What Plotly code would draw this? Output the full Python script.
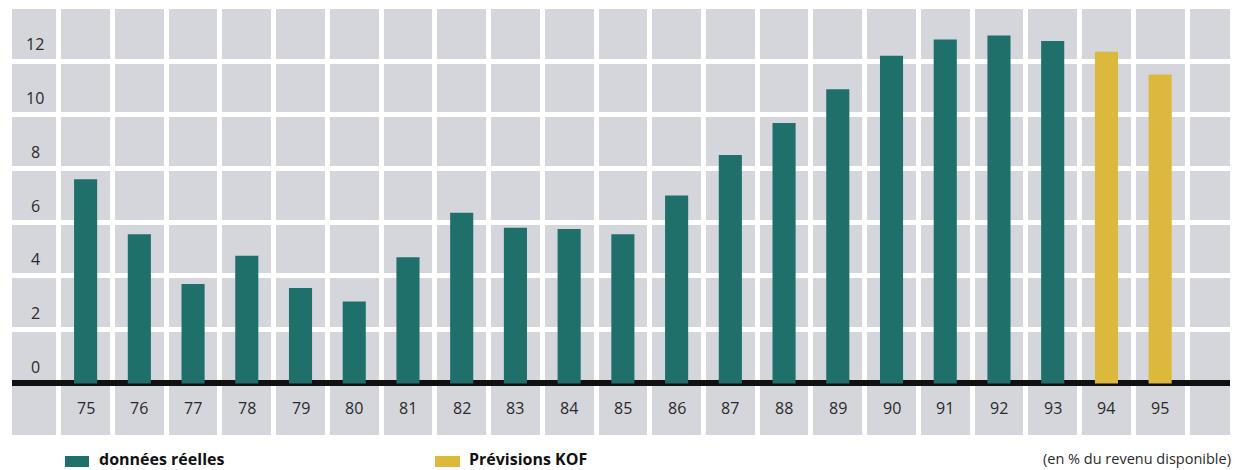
import plotly.graph_objects as go

years = list(range(75, 96))
year_labels = [str(y) for y in years]
actual_years = list(range(75, 94))
actual_values = [7.6, 5.55, 3.7, 4.75, 3.55, 3.05, 4.7, 6.35, 5.8, 5.75, 5.55,
                 7.0, 8.5, 9.7, 10.95, 12.2, 12.8, 12.95, 12.75]
forecast_years = [94, 95]
forecast_values = [12.35, 11.5]
y_ticks = [0, 2, 4, 6, 8, 10, 12]

TEAL = "#1f6f6b"
GOLD = "#dcb83c"
BG = "#d5d6dc"
TXT = "#2a2a2a"
FONT = "Open Sans"

fig = go.Figure()
fig.add_trace(go.Bar(x=actual_years, y=actual_values, marker=dict(color=TEAL, line=dict(width=0)),
                     width=0.43, name="données réelles", showlegend=False))
fig.add_trace(go.Bar(x=forecast_years, y=forecast_values, marker=dict(color=GOLD, line=dict(width=0)),
                     width=0.43, name="Prévisions KOF", showlegend=False))

W, H = 1235, 470
ml, mt = 12, 9
mb = H - 435
mr = W - 1230
pw, ph = W - ml - mr, H - mt - mb

def px_x(p):
    return (p - ml) / pw

def px_y(p):
    return (H - mb - p) / ph

annotations = []
for v in y_ticks:
    annotations.append(dict(x=px_x(35), xref="paper", y=v + 0.62, yref="y", text=str(v),
                            showarrow=False, xanchor="center", yanchor="middle",
                            font=dict(family=FONT, size=16, color=TXT)))
for yr, lab in zip(years, year_labels):
    annotations.append(dict(x=yr, xref="x", y=-0.91, yref="y", text=lab,
                            showarrow=False, xanchor="center", yanchor="middle",
                            font=dict(family=FONT, size=16, color=TXT)))

shapes = [
    dict(type="rect", xref="paper", yref="paper", x0=px_x(65), x1=px_x(89), y0=px_y(467), y1=px_y(456),
         fillcolor=TEAL, line=dict(width=0)),
    dict(type="rect", xref="paper", yref="paper", x0=px_x(435), x1=px_x(460), y0=px_y(467), y1=px_y(456),
         fillcolor=GOLD, line=dict(width=0)),
]
annotations += [
    dict(x=px_x(97), xref="paper", y=px_y(458.5), yref="paper", text="<b>données réelles</b>",
         showarrow=False, xanchor="left", yanchor="middle", font=dict(family=FONT, size=16, color="#111")),
    dict(x=px_x(467), xref="paper", y=px_y(458.5), yref="paper", text="<b>Prévisions KOF</b>",
         showarrow=False, xanchor="left", yanchor="middle", font=dict(family=FONT, size=16, color="#111")),
    dict(x=px_x(1233), xref="paper", y=px_y(459), yref="paper", text="(en % du revenu disponible)",
         showarrow=False, xanchor="right", yanchor="middle", font=dict(family=FONT, size=14.5, color=TXT)),
]

fig.update_layout(
    width=W, height=H,
    margin=dict(l=ml, r=mr, t=mt, b=mb, pad=0),
    paper_bgcolor="white", plot_bgcolor=BG,
    barmode="overlay",
    xaxis=dict(range=[73.63, 96.3], tickvals=[y + 0.5 for y in range(74, 96)],
               showticklabels=False, ticks="", showgrid=True, gridcolor="white", gridwidth=5,
               zeroline=False, showline=False, fixedrange=True),
    yaxis=dict(range=[-1.92, 13.94], tickvals=list(range(-2, 15, 2)),
               showticklabels=False, ticks="", showgrid=True, gridcolor="white", gridwidth=5,
               zeroline=True, zerolinecolor="#111", zerolinewidth=6, showline=False, fixedrange=True),
    annotations=annotations,
    shapes=shapes,
)

fig.write_html(
    "out.html",
    config={"displayModeBar": False, "staticPlot": True},
    post_script="document.body.style.margin='0';document.body.style.overflow='hidden';",
)
